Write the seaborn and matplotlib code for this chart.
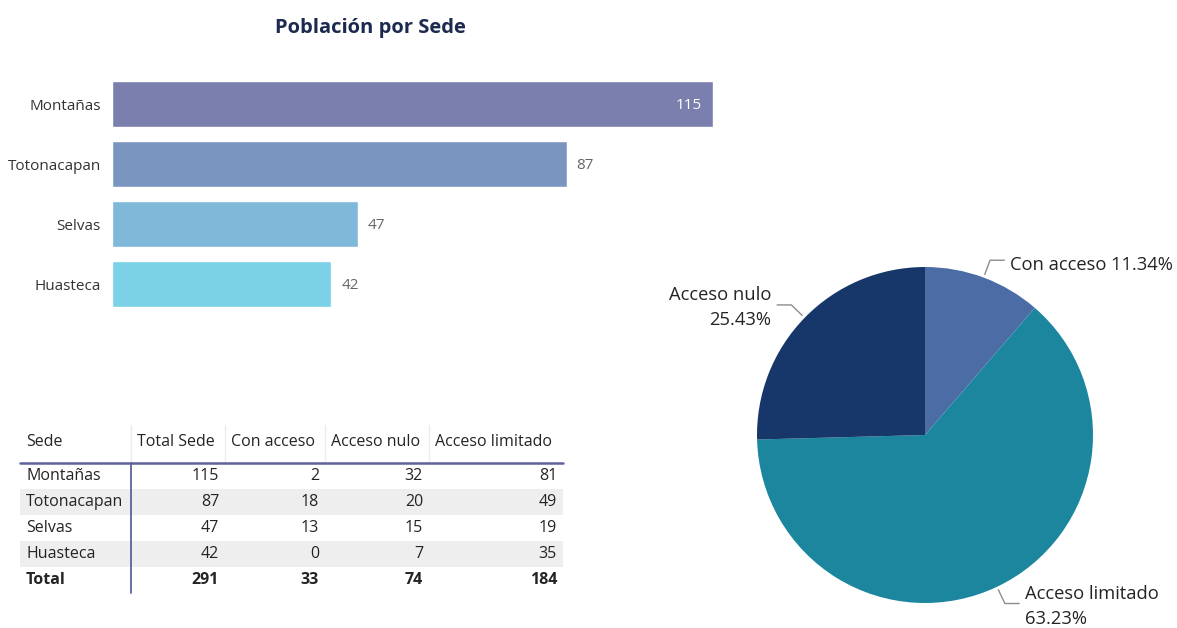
import numpy as np
import matplotlib
matplotlib.use("Agg")
import matplotlib.pyplot as plt
import seaborn as sns
from matplotlib.patches import Rectangle

# data
sedes = ['Montañas', 'Totonacapan', 'Selvas', 'Huasteca']
total_sede = [115, 87, 47, 42]
con_acceso = [2, 18, 13, 0]
acceso_nulo = [32, 20, 15, 7]
acceso_limitado = [81, 49, 19, 35]

bar_colors = ['#7B7FAD', '#7A95BF', '#80B8DA', '#7BD1E6']
pie_labels = ['Con acceso', 'Acceso limitado', 'Acceso nulo']
pie_colors = ['#4C6CA5', '#1B869D', '#17366A']

sns.set_theme(style='white')
plt.rcParams['font.family'] = ['Open Sans', 'DejaVu Sans']

W, H = 1177, 628
fig = plt.figure(figsize=(W / 100, H / 100), dpi=100)
fig.patch.set_facecolor('white')

txt = '#252423'

# ---- bar chart ----
ax = fig.add_axes([112 / W, 1 - 314 / H, (713 - 112) / W, 240 / H])
sns.barplot(x=total_sede, y=sedes, hue=sedes, palette=bar_colors, legend=False,
            width=0.77, saturation=1, ax=ax)
ax.set_xlim(0, max(total_sede))
ax.set_ylim(3.5, -0.5)
sns.despine(ax=ax, left=True, bottom=True)
ax.set_xticks([])
ax.set_xlabel('')
ax.set_ylabel('')
ax.tick_params(axis='y', length=0, pad=8, labelsize=11, labelcolor='#333333')
for i, p in enumerate(ax.patches):
    v = p.get_width()
    yc = p.get_y() + p.get_height() / 2
    if v >= 0.9 * max(total_sede):
        ax.annotate(f'{v:.0f}', (v, yc), xytext=(-8, -1), textcoords='offset points',
                    ha='right', va='center', fontsize=11, color='white')
    else:
        ax.annotate(f'{v:.0f}', (v, yc), xytext=(7, -1), textcoords='offset points',
                    ha='left', va='center', fontsize=11, color='#666666')

fig.text(370 / W, 1 - 28 / H, 'Población por Sede', ha='center', va='center',
         fontsize=14.5, fontweight='bold', color='#1B2A4E')

# ---- table ----
tab = fig.add_axes([0, 0, 1, 1])
tab.set_xlim(0, W)
tab.set_ylim(H, 0)
tab.axis('off')
tab.patch.set_alpha(0)

headers = ['Sede', 'Total Sede', 'Con acceso', 'Acceso nulo', 'Acceso limitado']
col_edges = [20, 131, 225, 325, 429, 563]
head_top, head_bot, row_h = 425, 463, 26
columns = [total_sede, con_acceso, acceso_nulo, acceso_limitado]
rows = [[s] + [c[i] for c in columns] for i, s in enumerate(sedes)]
rows.append(['Total'] + [sum(c) for c in columns])

for i in range(len(rows)):
    if i % 2 == 1:
        tab.add_patch(Rectangle((col_edges[0], head_bot + i * row_h), col_edges[-1] - col_edges[0],
                                row_h, facecolor='#EEEEEE', edgecolor='none'))
for x in col_edges[1:-1]:
    tab.plot([x, x], [head_top, head_bot], color='#ECECEC', lw=1)
tab.plot([col_edges[0], col_edges[-1]], [head_bot, head_bot], color='#5F6299', lw=1.8)
tab.plot([col_edges[1], col_edges[1]], [head_bot, head_bot + len(rows) * row_h],
         color='#5F6299', lw=1.3)

for j, h in enumerate(headers):
    tab.text(col_edges[j] + 6, (head_top + head_bot) / 2 - 2, h, ha='left', va='center',
             fontsize=11.5, color=txt)
for i, r in enumerate(rows):
    yc = head_bot + i * row_h + row_h / 2
    w = 'bold' if r[0] == 'Total' else 'normal'
    tab.text(col_edges[0] + 6, yc, r[0], ha='left', va='center', fontsize=11.5,
             color=txt, fontweight=w)
    for j, v in enumerate(r[1:], start=1):
        tab.text(col_edges[j + 1] - 6, yc, f'{v}', ha='right', va='center', fontsize=11.5,
                 color=txt, fontweight=w)

# ---- pie ----
cx, cy, R = 925, 435, 168
axp = fig.add_axes([(cx - R) / W, 1 - (cy + R) / H, 2 * R / W, 2 * R / H])
pie_vals = [sum(con_acceso), sum(acceso_limitado), sum(acceso_nulo)]
wedges, _ = axp.pie(pie_vals, colors=pie_colors, startangle=90, counterclock=False,
                    radius=1, wedgeprops=dict(linewidth=0))
axp.set_xlim(-1, 1)
axp.set_ylim(-1, 1)
tot = sum(pie_vals)
for wdg, lab, v in zip(wedges, pie_labels, pie_vals):
    th = np.deg2rad((wdg.theta1 + wdg.theta2) / 2)
    c, s = np.cos(th), np.sin(th)
    x0, y0 = 1.02 * c, 1.02 * s
    x1, y1 = 1.11 * c, 1.11 * s
    d = 1 if c > 0 else -1
    x2 = x1 + d * 0.085
    axp.plot([x0, x1, x2], [y0, y1, y1], color='#8C8C8C', lw=1, clip_on=False)
    pct = f'{100 * v / tot:.2f}%'
    ha = 'left' if d > 0 else 'right'
    if lab == 'Con acceso':
        axp.text(x2 + d * 0.035, y1 - 0.03, f'{lab} {pct}', ha=ha, va='center',
                 fontsize=13.2, color=txt, clip_on=False)
    else:
        axp.text(x2 + d * 0.035, y1 + 0.11, f'{lab}\n{pct}', ha=ha, va='top',
                 multialignment=ha, linespacing=1.5, fontsize=13.2, color=txt,
                 clip_on=False)

fig.savefig('out.png', dpi=100)
